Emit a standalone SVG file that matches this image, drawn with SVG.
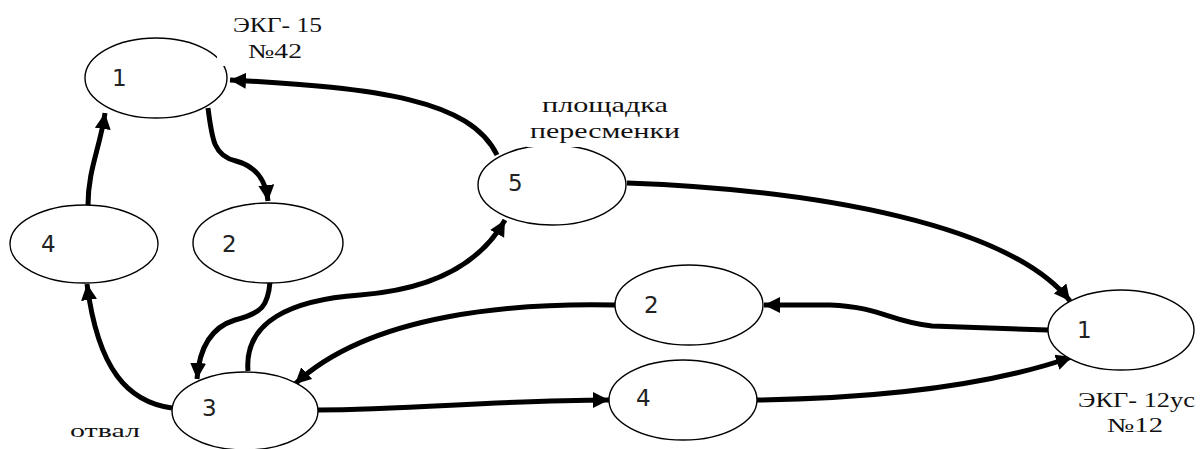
<svg xmlns="http://www.w3.org/2000/svg" width="1200" height="449" viewBox="0 0 1200 449">
<defs>
<marker id="ah" markerUnits="userSpaceOnUse" markerWidth="20" markerHeight="20" refX="16" refY="8" orient="auto">
<path d="M0,0 L16,8 L0,16 Z" fill="#000"/>
</marker>
<style>
.node ellipse{fill:#fff;stroke:#000;stroke-width:1.4}
.num{font-family:"DejaVu Sans",sans-serif;font-size:23px;fill:#222}
.lbl{font-family:"Liberation Serif",serif;font-size:20px;fill:#111}
.edge{fill:none;stroke:#000;stroke-width:5;marker-end:url(#ah)}
.mask{fill:#fff}
</style>
</defs>
<rect width="1200" height="449" fill="#fff"/>
<g id="connectors">
<path class="edge" d="M208,108 C212,140 214,156 236,161 C258,167 266,182 268,201"/>
<path class="edge" d="M88,205 C88,170 100,148 105,113"/>
<path class="edge" d="M172,408 C128,402 98,370 87,284"/>
<path class="edge" d="M270,282 C268,306 262,313 235,320 C209,328 199,350 197,379"/>
<path class="edge" d="M248,371 C244,322 290,300 360,295 C425,290 478,268 505,220"/>
<path class="edge" d="M497,155 C470,100 380,88 230,80"/>
<path class="edge" d="M627,183 C820,190 1010,225 1070,301"/>
<path class="edge" d="M1048,330 L932,326 C890,322 882,307 830,305 L764,305"/>
<path class="edge" d="M615,305 C520,303 372,312 295,384"/>
<path class="edge" d="M318,410 C410,410 500,400 609,400"/>
<path class="edge" d="M757,400 C900,398 1000,382 1072,357"/>
</g>
<g id="n1a" class="node"><ellipse cx="156" cy="78" rx="71" ry="40"/><text class="num" x="112" y="86">1</text></g>
<g id="n4a" class="node"><ellipse cx="84" cy="244" rx="74" ry="39"/><text class="num" x="41" y="252">4</text></g>
<g id="n2a" class="node"><ellipse cx="268" cy="243" rx="75" ry="40"/><text class="num" x="222" y="252">2</text></g>
<g id="n3" class="node"><ellipse cx="245" cy="411" rx="73" ry="39"/><text class="num" x="202" y="416">3</text></g>
<g id="n5" class="node"><ellipse cx="552" cy="185" rx="74" ry="40"/><text class="num" x="508" y="191">5</text></g>
<g id="n2b" class="node"><ellipse cx="689" cy="305" rx="74" ry="40"/><text class="num" x="644" y="313">2</text></g>
<g id="n4b" class="node"><ellipse cx="683" cy="400" rx="74" ry="40"/><text class="num" x="636" y="406">4</text></g>
<g id="n1b" class="node"><ellipse cx="1121" cy="330" rx="73" ry="40"/><text class="num" x="1077" y="338">1</text></g>
<g id="labels">
<rect class="mask" x="217" y="4" width="110" height="62"/>
<text class="lbl" x="233" y="32" textLength="89" lengthAdjust="spacingAndGlyphs">ЭКГ- 15</text>
<text class="lbl" x="248" y="58" textLength="54" lengthAdjust="spacingAndGlyphs">№42</text>
<rect class="mask" x="527" y="124" width="52" height="23"/>
<text class="lbl" x="542" y="112" textLength="126" lengthAdjust="spacingAndGlyphs" style="font-size:22px">площадка</text>
<text class="lbl" x="530" y="138" textLength="150" lengthAdjust="spacingAndGlyphs" style="font-size:22px">пересменки</text>
<text class="lbl" x="1078" y="407" textLength="117" lengthAdjust="spacingAndGlyphs">ЭКГ- 12ус</text>
<text class="lbl" x="1107" y="432" textLength="56" lengthAdjust="spacingAndGlyphs">№12</text>
<text class="lbl" x="70" y="437" textLength="70" lengthAdjust="spacingAndGlyphs" style="font-size:18px">отвал</text>
</g>
</svg>
